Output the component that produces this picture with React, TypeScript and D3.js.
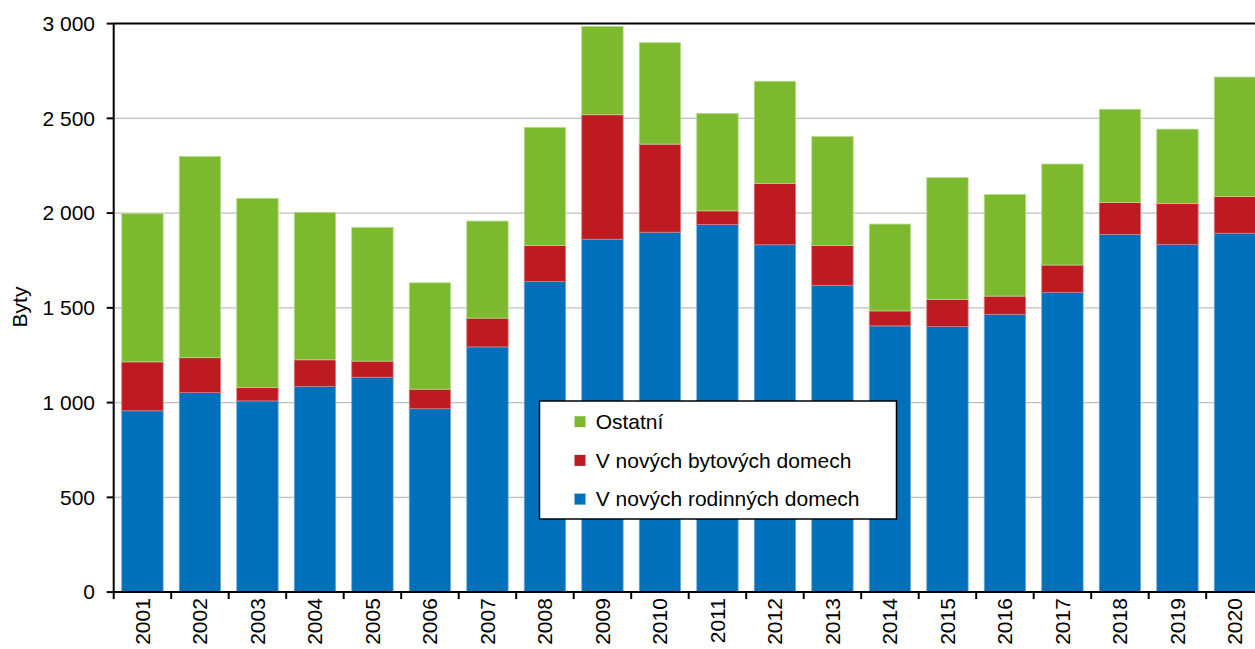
import React from "react";
import * as d3 from "d3";

const years = ["2001","2002","2003","2004","2005","2006","2007","2008","2009","2010","2011","2012","2013","2014","2015","2016","2017","2018","2019","2020"];
const rodinne = [957,1053,1009,1086,1134,968,1294,1639,1862,1899,1940,1833,1619,1405,1401,1466,1582,1888,1835,1894];
const bytove = [258,184,70,140,85,103,152,190,657,465,72,324,210,79,144,96,144,168,215,193];
const ostatni = [782,1062,999,778,706,561,512,623,466,535,514,539,575,458,642,536,533,492,393,631];
const yTicks = [0,500,1000,1500,2000,2500,3000];
const seriesNames = ["V nových rodinných domech","V nových bytových domech","Ostatní"];
const seriesColors = ["#0070BA","#BE1A22","#7DB92E"];
const strokeColors = ["#6FA8D8","#D87A7E","#B5DB8A"];

const W = 1255, H = 649;
const L = 113.7, R = 1263.7, T = 23.6, B = 592.1;
const FONT = "'Liberation Sans', Arial, sans-serif";
const FS = 21;

const fmt = (v: number) => {
  const s = String(v);
  return s.length > 3 ? s.slice(0, s.length - 3) + "\u00a0" + s.slice(-3) : s;
};

export default function App() {
  const x = d3.scaleBand<string>().domain(years).range([L, R]).paddingInner(0.28).paddingOuter(0.14);
  const xb = d3.scaleBand<string>().domain(years).range([L, R]);
  const y = d3.scaleLinear().domain([0, 3000]).range([B, T]);

  const table = years.map((yr, i) => ({ year: yr, r: rodinne[i], b: bytove[i], o: ostatni[i] }));
  const stack = d3.stack<any>().keys(["r", "b", "o"])(table);

  const legendItems = [
    { name: seriesNames[2], color: seriesColors[2] },
    { name: seriesNames[1], color: seriesColors[1] },
    { name: seriesNames[0], color: seriesColors[0] },
  ];

  return (
    <svg width={W} height={H} style={{ position: "absolute", left: 0, top: 0, background: "#fff" }} fontFamily={FONT}>
      {yTicks.filter(t => t > 0 && t < 3000).map(t => (
        <line key={"g" + t} x1={L} x2={R} y1={y(t)} y2={y(t)} stroke="#C0C0C0" strokeWidth={1.2} />
      ))}
      {stack.map((s, si) => (
        <g key={si}>
          {s.map((d, i) => (
            <rect key={i} x={x(years[i])!} width={x.bandwidth()} y={y(d[1])} height={y(d[0]) - y(d[1])}
              fill={seriesColors[si]} stroke={strokeColors[si]} strokeWidth={0.8} />
          ))}
        </g>
      ))}
      <line x1={L} x2={R} y1={T} y2={T} stroke="#000" strokeWidth={2} />
      <line x1={L} x2={L} y1={T} y2={B} stroke="#000" strokeWidth={2} />
      <line x1={L} x2={R} y1={B} y2={B} stroke="#000" strokeWidth={2} />
      {yTicks.map(t => (
        <g key={"t" + t}>
          <line x1={L - 7} x2={L} y1={y(t)} y2={y(t)} stroke="#000" strokeWidth={2} />
          <text x={95} y={y(t)} dy="0.35em" textAnchor="end" fontSize={FS} fill="#000">{fmt(t)}</text>
        </g>
      ))}
      {years.map((yr, i) => (
        <line key={"xt" + i} x1={xb(yr)!} x2={xb(yr)!} y1={B} y2={B + 7} stroke="#000" strokeWidth={2} />
      ))}
      {years.map(yr => {
        const cx = xb(yr)! + xb.bandwidth() / 2;
        return (
          <text key={"xl" + yr} transform={`translate(${cx},${B + 6}) rotate(-90)`} textAnchor="end" dy="0.35em" fontSize={FS} fill="#000">{yr}</text>
        );
      })}
      <text transform={`translate(20,307) rotate(-90)`} textAnchor="middle" dy="0.35em" fontSize={FS} fill="#000">Byty</text>
      <rect x={539.5} y={401} width={357} height={118} fill="#fff" stroke="#000" strokeWidth={1.5} />
      {legendItems.map((it, i) => {
        const cy = 421.7 + i * 38.7;
        return (
          <g key={"l" + i}>
            <rect x={574.5} y={cy - 5.5} width={11} height={11} fill={it.color} />
            <text x={595.7} y={cy} dy="0.35em" fontSize={FS} fill="#000">{it.name}</text>
          </g>
        );
      })}
    </svg>
  );
}
